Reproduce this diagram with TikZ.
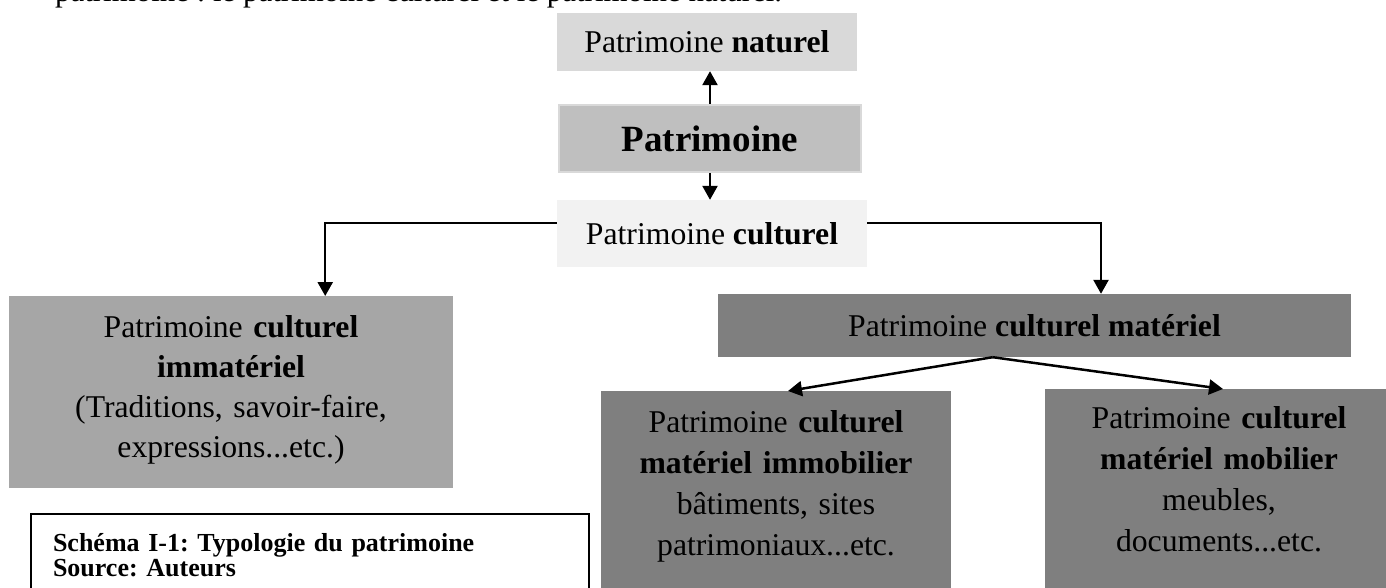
\documentclass[tikz,border=0pt]{standalone}
\usepackage{fontspec}
\setmainfont{Liberation Serif}
\usepackage{tikz}
\usetikzlibrary{calc}
\usetikzlibrary{arrows.meta}
\frenchspacing

\definecolor{natgray}{HTML}{D9D9D9}
\definecolor{patgray}{HTML}{BFBFBF}
\definecolor{cultgray}{HTML}{F2F2F2}
\definecolor{immgray}{HTML}{A6A6A6}
\definecolor{matgray}{HTML}{7F7F7F}

\newcommand\topgap[1]{\rule{0pt}{#1}}
\newcommand\botgap[1]{\rule[-#1]{0pt}{#1}}

\tikzset{
  box/.style={rectangle, inner sep=0pt, align=center, font=\fontsize{31.7}{40}\selectfont},
  arr/.style={line width=2.5pt, -{Triangle[length=14pt,width=15pt]}},
}

\begin{document}
\begin{tikzpicture}[x=1pt,y=-1pt]

\useasboundingbox (0,0) rectangle (1386,588);
\clip (0,0) rectangle (1386,588);

\node[anchor=base west, inner sep=0pt, font=\fontsize{30.9}{40}\selectfont] (intro) at (55,2) {patrimoine : le patrimoine culturel et le patrimoine naturel.};

\node[box, fill=natgray, minimum width=300pt, minimum height=58pt] (naturel) at (707,42) {Patrimoine \textbf{naturel}};
\node[box, fill=patgray, draw=natgray, line width=2pt, minimum width=302pt, minimum height=67pt, font=\fontsize{37}{44}\selectfont\bfseries] (patrimoine) at (710,138.5) {Patrimoine};
\node[box, fill=cultgray, minimum width=310pt, minimum height=67pt] (culturel) at (712,233.5) {Patrimoine \textbf{culturel}};

\node[box, fill=immgray, anchor=north, text width=444pt] (immateriel) at (231,296) {\topgap{41pt}Patrimoine \textbf{culturel}\\\textbf{immatériel}\\(Traditions, savoir-faire,\\expressions...etc.)\botgap{31pt}};
\node[box, fill=matgray, minimum width=633pt, minimum height=63pt] (materiel) at (1034.5,325.5) {Patrimoine \textbf{culturel matériel}};

\node[box, fill=matgray, anchor=north, text width=350pt, font=\fontsize{31.7}{41}\selectfont] (immobilier) at (776,391) {\topgap{41pt}Patrimoine \textbf{culturel}\\\textbf{matériel immobilier}\\bâtiments, sites\\patrimoniaux...etc.\botgap{60pt}};
\node[box, fill=matgray, anchor=north, text width=348pt, font=\fontsize{31.7}{41}\selectfont] (mobilier) at (1219,389) {\topgap{39pt}Patrimoine \textbf{culturel}\\\textbf{matériel mobilier}\\meubles,\\documents...etc.\botgap{60pt}};

\node[draw, line width=2pt, anchor=north west, text width=514pt, inner xsep=22pt, inner ysep=0pt, align=left, font=\fontsize{26}{25}\selectfont\bfseries] (schema) at (30,513) {\topgap{37pt}Schéma I-1: Typologie du patrimoine\\Source: Auteurs\botgap{40pt}};

\draw[arr] (patrimoine.north) -- (patrimoine.north |- naturel.south);
\draw[arr] (patrimoine.south) -- (patrimoine.south |- culturel.north);

\draw[arr] ([yshift=10.5pt]culturel.west) -| ($(immateriel.north west)!0.712!(immateriel.north east)$);
\draw[arr] ([yshift=10.5pt]culturel.east) -| ($(materiel.north west)!0.605!(materiel.north east)$);

\coordinate (fork) at ($(materiel.south west)!0.434!(materiel.south east)$);
\draw[arr] (fork) -- ([xshift=12pt]immobilier.north);
\draw[arr] (fork) -- ([xshift=4pt]mobilier.north);

\end{tikzpicture}
\end{document}
